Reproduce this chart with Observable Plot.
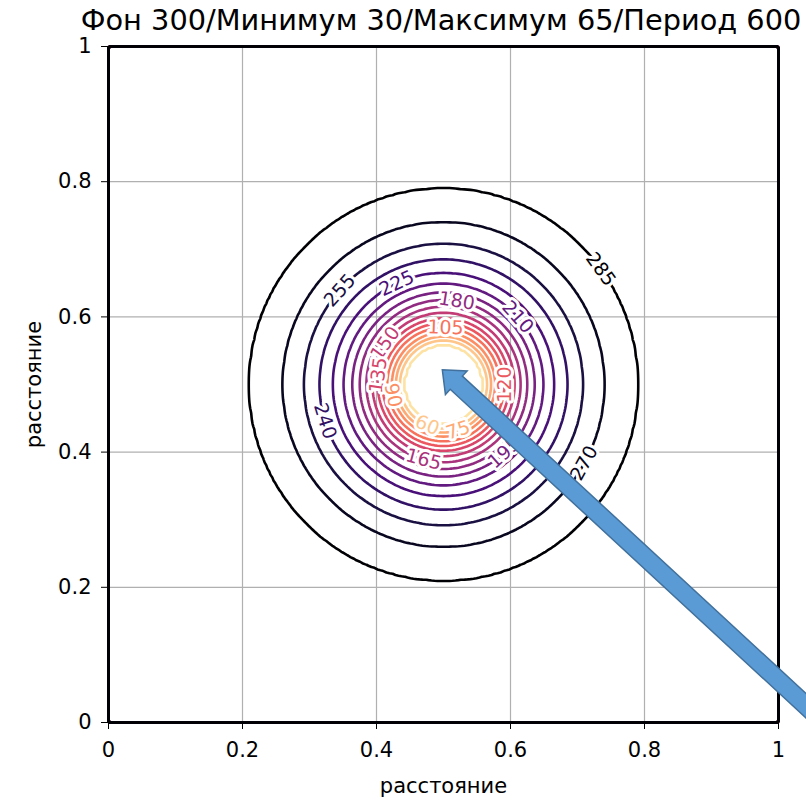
<!DOCTYPE html>
<html>
<head>
<meta charset="utf-8">
<script src="https://cdn.jsdelivr.net/npm/d3@7"></script>
<script src="https://cdn.jsdelivr.net/npm/@observablehq/plot@0.6"></script>
<style>
  html, body { margin: 0; padding: 0; background: #fff; overflow: hidden; }
  #title {
    height: 30px; box-sizing: border-box; padding-top: 6px; padding-left: 76px;
    width: 806px; text-align: center; white-space: nowrap; overflow: visible;
    font-family: "DejaVu Sans", sans-serif; font-size: 28.8px; line-height: 1; color: #000;
  }
  #chart svg { position: relative; }
</style>
</head>
<body>
<div id="title">Фон 300/Минимум 30/Максимум 65/Период 600</div>
<div id="chart"></div>
<script>
// Contour levels and the distance from the centre at which each one sits
const levels = [45, 60, 75, 90, 105, 120, 135, 150, 165, 180, 195, 210, 225, 240, 255, 270, 285];
const levelRadius = [0.059, 0.065, 0.071, 0.077, 0.084, 0.091, 0.098, 0.106, 0.115, 0.125, 0.136, 0.149, 0.165, 0.185, 0.208, 0.240, 0.290];

// Minimum at the centre, background further out
const centre = [0.5, 0.5];
const minimumValue = 30;
const backgroundValue = 300;
const backgroundRadius = 0.4;

// Inline contour labels: value and the direction (degrees) where it sits on its ring
const labelLevels = [285, 270, 255, 240, 225, 210, 195, 180, 165, 150, 135, 120, 105, 90, 75, 60];
const labelAngles = [36, -29, 138, 197, 115, 42, -48, 81, -105, 145, 172, 0, 88, 192, -72, -112];

// Axis ticks
const xTicks = [0, 0.2, 0.4, 0.6, 0.8, 1];
const yTicks = [0, 0.2, 0.4, 0.6, 0.8, 1];
const tickFormat = d => String(d);

// Pointer arrow: head and tail in data coordinates
const arrowTip = [0.499, 0.521];
const arrowTail = [1.15, -0.075];

// Radial profile: distance -> value
const profileR = [0, ...levelRadius, backgroundRadius];
const profileV = [minimumValue, ...levels, backgroundValue];
const profile = d3.scaleLinear().domain(profileR).range(profileV).clamp(true);
const field = (x, y) => profile(Math.hypot(x - centre[0], y - centre[1]));
const radiusOf = v => levelRadius[levels.indexOf(v)];

const labels = labelLevels.map((v, i) => {
  const a = labelAngles[i] * Math.PI / 180;
  let rot = -(labelAngles[i] + 90);
  rot = ((rot % 180) + 180) % 180;
  if (rot >= 90) rot -= 180;
  return {
    level: v,
    x: centre[0] + radiusOf(v) * Math.cos(a),
    y: centre[1] + radiusOf(v) * Math.sin(a),
    rot
  };
});

// Block arrow drawn in screen space from the scaled endpoints
function blockArrow(index, scales) {
  const px = scales.x(arrowTip[0]), py = scales.y(arrowTip[1]);
  const tx = scales.x(arrowTail[0]), ty = scales.y(arrowTail[1]);
  const len = Math.hypot(tx - px, ty - py);
  const ux = (tx - px) / len, uy = (ty - py) / len;
  const nx = -uy, ny = ux;
  const headLen = 19, headHalf = 16, shaftHalf = 9;
  const bx = px + ux * headLen, by = py + uy * headLen;
  const pts = [
    [px, py],
    [bx + nx * headHalf, by + ny * headHalf],
    [bx + nx * shaftHalf, by + ny * shaftHalf],
    [tx + nx * shaftHalf, ty + ny * shaftHalf],
    [tx - nx * shaftHalf, ty - ny * shaftHalf],
    [bx - nx * shaftHalf, by - ny * shaftHalf],
    [bx - nx * headHalf, by - ny * headHalf]
  ];
  const path = d3.create("svg:path")
    .attr("d", "M" + pts.map(p => p.join(",")).join("L") + "Z")
    .attr("fill", "#5b9bd5")
    .attr("stroke", "#41719c")
    .attr("stroke-width", 1.5)
    .attr("stroke-linejoin", "miter");
  return path.node();
}

const chart = Plot.plot({
  width: 806,
  height: 772,
  marginTop: 16,
  marginBottom: 80,
  marginLeft: 108,
  marginRight: 28,
  style: {fontFamily: "DejaVu Sans, sans-serif", fontSize: "21px", color: "#000", background: "transparent", overflow: "visible"},
  x: {domain: [0, 1]},
  y: {domain: [0, 1]},
  color: {type: "linear", scheme: "magma", reverse: true, domain: [minimumValue, 285]},
  marks: [
    Plot.gridX({ticks: xTicks, stroke: "#b0b0b0", strokeOpacity: 1, strokeWidth: 1.2}),
    Plot.gridY({ticks: yTicks, stroke: "#b0b0b0", strokeOpacity: 1, strokeWidth: 1.2}),
    Plot.contour({
      x1: 0, y1: 0, x2: 1, y2: 1,
      stroke: field,
      fill: "none",
      thresholds: levels,
      pixelSize: 3,
      strokeWidth: 2.6
    }),
    Plot.text(labels, {
      x: "x", y: "y", text: d => String(d.level),
      fill: "level", rotate: "rot",
      stroke: "white", strokeWidth: 6,
      fontSize: 19
    }),
    Plot.frame({stroke: "#000", strokeWidth: 1.4}),
    Plot.axisX({
      ticks: xTicks, tickFormat, tickSize: 7, tickPadding: 13,
      label: "расстояние", labelAnchor: "center", labelOffset: 70, labelArrow: "none"
    }),
    Plot.axisY({
      ticks: yTicks, tickFormat, tickSize: 7, tickPadding: 10,
      label: "расстояние", labelAnchor: "center", labelOffset: 82, labelArrow: "none"
    }),
    blockArrow
  ]
});

document.getElementById("chart").appendChild(chart);
</script>
</body>
</html>
